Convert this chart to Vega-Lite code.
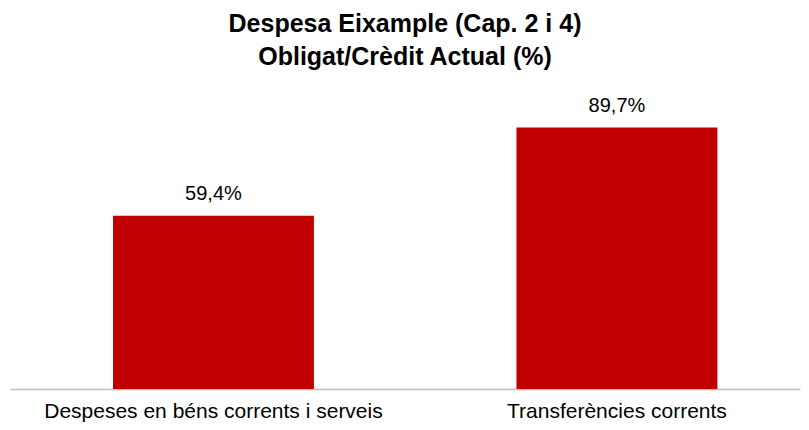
{
  "$schema": "https://vega.github.io/schema/vega-lite/v6.json",
  "autosize": {"type": "none"},
  "width": 790,
  "height": 291.5,
  "padding": {"left": 10, "top": 97.5, "right": 9, "bottom": 41},
  "background": "white",
  "config": {
    "locale": {"number": {"decimal": ",", "thousands": ".", "grouping": [3], "currency": ["", " €"]}},
    "view": {"stroke": null},
    "font": "Liberation Sans"
  },
  "title": {
    "text": ["Despesa Eixample (Cap. 2 i 4)", "Obligat/Crèdit Actual (%)"],
    "font": "Liberation Sans",
    "fontSize": 25,
    "fontWeight": "bold",
    "color": "#000000",
    "lineHeight": 33,
    "anchor": "middle",
    "offset": 26
  },
  "data": {
    "values": [
      {"categoria": "Despeses en béns corrents i serveis", "valor": 0.594},
      {"categoria": "Transferències corrents", "valor": 0.897}
    ]
  },
  "encoding": {
    "x": {
      "field": "categoria",
      "type": "nominal",
      "sort": null,
      "scale": {"paddingInner": 0.502, "paddingOuter": 0.23, "align": 0.555},
      "axis": {
        "title": null,
        "labelAngle": 0,
        "labelFontSize": 21,
        "labelColor": "#000000",
        "labelFont": "Liberation Sans",
        "labelPadding": 11,
        "labelLimit": 0,
        "ticks": false,
        "domainColor": "#BFBFBF",
        "domainWidth": 1.5
      }
    },
    "y": {
      "field": "valor",
      "type": "quantitative",
      "scale": {"domain": [0, 1], "nice": false},
      "axis": null
    }
  },
  "layer": [
    {"mark": {"type": "bar", "color": "#C00000"}},
    {
      "mark": {"type": "text", "dy": -16, "baseline": "alphabetic", "fontSize": 20, "color": "#000000", "font": "Liberation Sans"},
      "encoding": {"text": {"field": "valor", "type": "quantitative", "format": ".1%"}}
    }
  ]
}
